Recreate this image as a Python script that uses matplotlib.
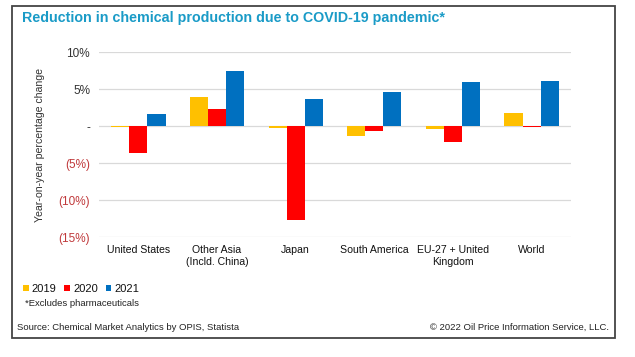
import numpy as np
import matplotlib
matplotlib.use("Agg")
from matplotlib import pyplot as plt
from matplotlib.patches import Rectangle

plt.rcParams["font.family"] = ["Liberation Sans", "DejaVu Sans"]

regions = ["United States", "Other Asia\n(Incld. China)", "Japan",
           "South America", "EU-27 + United\nKingdom", "World"]
years = ["2019", "2020", "2021"]
vals_2019 = [-0.05, 3.95, -0.2, -1.3, -0.35, 1.75]
vals_2020 = [-3.55, 2.4, -12.7, -0.65, -2.1, -0.1]
vals_2021 = [1.7, 7.5, 3.7, 4.65, 5.95, 6.1]
colors = ["#FFC000", "#FF0000", "#0070C0"]

yticks = [10, 5, 0, -5, -10, -15]
ytick_labels = ["10%", "5%", "-", "(5%)", "(10%)", "(15%)"]

fig = plt.figure(figsize=(6.35, 3.57), dpi=100)
ax = fig.add_axes([0.156, 0.336, 0.743, 0.517])

x = np.arange(len(regions))
w = 0.23
for i, (v, c) in enumerate(zip([vals_2019, vals_2020, vals_2021], colors)):
    ax.bar(x + (i - 1) * w, v, w, color=c, label=years[i], zorder=3)

ax.set_xlim(-0.5, len(regions) - 0.5)
ax.set_ylim(-15, 10)
ax.set_yticks(yticks)
ax.set_yticklabels(ytick_labels, fontsize=8.5)
for lbl, v in zip(ax.get_yticklabels(), yticks):
    lbl.set_color("#c0393b" if v < 0 else "#333333")
ax.set_xticks(x)
ax.set_xticklabels(regions, fontsize=7.6, color="#111111", linespacing=1.15)
ax.tick_params(length=0, pad=6.5, axis="y")
ax.tick_params(length=0, pad=6, axis="x")
ax.grid(axis="y", color="#d9d9d9", linewidth=0.9, zorder=0)
for s in ax.spines.values():
    s.set_visible(False)
ax.set_ylabel("Year-on-year percentage change", fontsize=7.6, color="#333333")
ax.yaxis.set_label_coords(-0.115, 0.5)

fig.text(22 / 635, 1 - 18 / 357, "Reduction in chemical production due to COVID-19 pandemic*",
         fontsize=10.3, fontweight="bold", color="#1a9bc7", va="center")

leg = fig.legend(loc="center left", bbox_to_anchor=(23 / 635, 1 - 289 / 357), ncol=3,
                 frameon=False, fontsize=8, handlelength=0.5, handleheight=0.5,
                 handletextpad=0.3, columnspacing=0.7, borderaxespad=0, borderpad=0)
for t in leg.get_texts():
    t.set_color("#111111")

fig.text(25 / 635, 1 - 304 / 357, "*Excludes pharmaceuticals", fontsize=6.8,
         color="#222222", va="center")
fig.text(17 / 635, 1 - 327 / 357, "Source: Chemical Market Analytics by OPIS, Statista",
         fontsize=6.8, color="#222222", va="center")
fig.text(609 / 635, 1 - 327 / 357, "\u00a9 2022 Oil Price Information Service, LLC.",
         fontsize=6.8, color="#222222", va="center", ha="right")

fig.patches.append(Rectangle((12 / 635, 1 - 338 / 357), 603 / 635, 332 / 357,
                             transform=fig.transFigure, fill=False,
                             edgecolor="#444444", linewidth=1.3))

fig.savefig("out.png", dpi=100)
